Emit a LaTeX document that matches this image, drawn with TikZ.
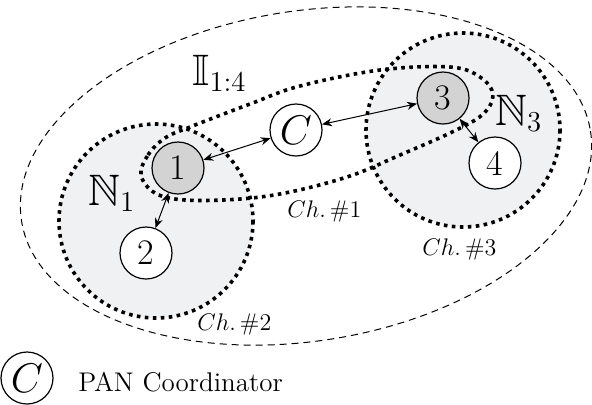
\documentclass[tikz,border=0pt]{standalone}
\usepackage{amsmath}
\usepackage{amssymb}
\usepackage{tikz}
\usetikzlibrary{arrows.meta,positioning}
\definecolor{zonegray}{RGB}{240,241,243}
\definecolor{headgray}{RGB}{211,211,211}
\tikzset{
	noeud/.style={draw,circle,line width=0.6pt,minimum size=26pt,inner sep=0pt,fill=white,font=\fontsize{18}{21}\selectfont},
	chef/.style={noeud,fill=headgray},
	coord/.style={noeud,font=\fontsize{20}{24}\selectfont},
	canal/.style={line width=1.8pt,dash pattern=on 1.8pt off 2.2pt},
	lien/.style={line width=0.5pt,{Stealth[length=5pt,width=4pt]}-{Stealth[length=5pt,width=4pt]}},
	etiq/.style={inner sep=0pt,anchor=base west}
}

\begin{document}
\begin{tikzpicture}[x=0.5pt,y=-0.5pt]
	\def\rZone{97}
\useasboundingbox (0,0) rectangle (592,404);

%Ellipse externe
\draw[line width=0.5pt,dash pattern=on 3.5pt off 2.5pt,shift={(306,176)},rotate=9] (0,0) ellipse [x radius=288, y radius=165];

%Zones N1 et N3
\filldraw[canal,fill=zonegray] (156,221) circle [radius=\rZone];
\filldraw[canal,fill=zonegray] (463,130) circle [radius=\rZone];

%Canal 1
\draw[canal] plot[smooth cycle,tension=0.6] coordinates {(141,175) (148,155) (165,138) (190,127) (250,104) (300,86) (380,70) (450,67) (480,77) (493,95) (482,115) (450,133) (400,155) (350,176) (290,192) (240,199) (185,200) (155,193)};

%Noeuds
\node[chef] (n1) at (178,168) {1};
\node[noeud] (n2) at (146,253) {2};
\node[chef] (n3) at (443,98) {3};
\node[noeud] (n4) at (495,163) {4};
\node[coord] (nC) at (296,130) {$C$};

%Liens
\draw[lien] (n1) -- (nC);
\draw[lien] (nC) -- (n3);
\draw[lien] (n3) -- (n4);
\draw[lien] (n1) -- (n2);

%Etiquettes
\node[etiq,font=\fontsize{22}{26}\selectfont] (lN1) at (88,205) {$\mathbb{N}_1$};
\node[etiq,font=\fontsize{22}{26}\selectfont] (lN3) at (495,125) {$\mathbb{N}_3$};
\node[etiq,font=\fontsize{22}{26}\selectfont] (lI) at (192,85) {$\mathbb{I}_{1:4}$};
\node[etiq,font=\fontsize{12}{14}\selectfont] (ch1) at (287,217) {$Ch.\,\#1$};
\node[etiq,font=\fontsize{12}{14}\selectfont] (ch2) at (197,330) {$Ch.\,\#2$};
\node[etiq,font=\fontsize{12}{14}\selectfont] (ch3) at (422,255) {$Ch.\,\#3$};

%Legende
\node[coord] (legC) at (27,378) {$C$};
\node[etiq,font=\fontsize{13.5}{16}\selectfont] (legT) at (78,391) {PAN Coordinator};

\end{tikzpicture}
\end{document}
